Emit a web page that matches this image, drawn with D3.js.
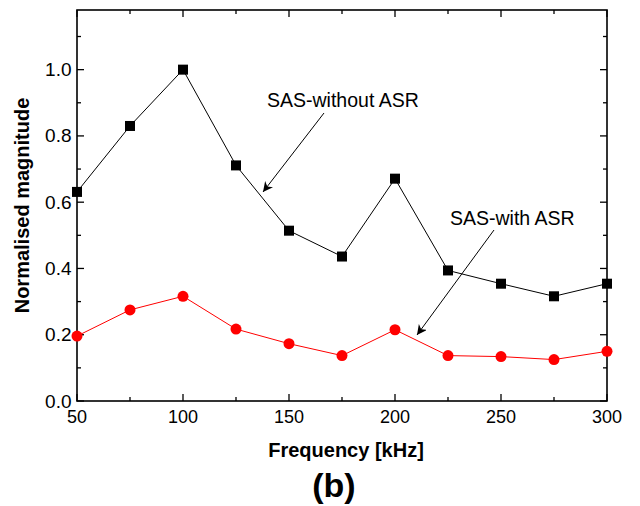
<!DOCTYPE html>
<html><head><meta charset="utf-8">
<script src="https://cdn.jsdelivr.net/npm/d3@7"></script>
<style>body{margin:0;background:#fff}svg{display:block;font-family:Arial,"Liberation Sans",sans-serif}</style>
</head><body>
<svg id="c" width="640" height="506"></svg>
<script>
const frequency = [50, 75, 100, 125, 150, 175, 200, 225, 250, 275, 300];
const withoutASR = [0.631, 0.830, 1.000, 0.711, 0.514, 0.436, 0.671, 0.394, 0.354, 0.316, 0.354];
const withASR = [0.196, 0.275, 0.316, 0.217, 0.173, 0.137, 0.215, 0.137, 0.134, 0.125, 0.150];
const xTicks = [50, 100, 150, 200, 250, 300];
const yTicks = [0.0, 0.2, 0.4, 0.6, 0.8, 1.0];

const svg = d3.select("#c");
const L = 77, R = 607, T = 10, B = 401;
const x = d3.scaleLinear().domain([50, 300]).range([L, R]);
const y = d3.scaleLinear().domain([0, 1.18]).range([B, T]);

// frame
svg.append("rect").attr("x", L).attr("y", T).attr("width", R - L).attr("height", B - T)
  .attr("fill", "none").attr("stroke", "#000").attr("stroke-width", 1.6);

const g = svg.append("g").attr("stroke", "#000").attr("stroke-width", 1.3);
const xMinor = d3.range(50, 301, 25);
const yMinor = d3.range(0, 1.15, 0.1);
xMinor.forEach(v => {
  const major = xTicks.includes(v);
  const len = major ? 7 : 4;
  g.append("line").attr("x1", x(v)).attr("x2", x(v)).attr("y1", B).attr("y2", B - len);
  g.append("line").attr("x1", x(v)).attr("x2", x(v)).attr("y1", T).attr("y2", T + len);
});
yMinor.forEach(v => {
  const major = yTicks.some(t => Math.abs(t - v) < 1e-6);
  const len = major ? 7 : 4;
  g.append("line").attr("y1", y(v)).attr("y2", y(v)).attr("x1", L).attr("x2", L + len);
  g.append("line").attr("y1", y(v)).attr("y2", y(v)).attr("x1", R).attr("x2", R - len);
});

// tick labels
svg.selectAll(".xl").data(xTicks).enter().append("text")
  .attr("x", d => x(d)).attr("y", B + 22).attr("text-anchor", "middle")
  .attr("font-size", 18).text(d => d);
svg.selectAll(".yl").data(yTicks).enter().append("text")
  .attr("x", L - 5.5).attr("y", d => y(d) + 6.5).attr("text-anchor", "end")
  .attr("font-size", 19).text(d => d.toFixed(1));

// axis titles
svg.append("text").attr("x", 346).attr("y", 457).attr("text-anchor", "middle")
  .attr("font-size", 20).attr("font-weight", "bold").text("Frequency [kHz]");
svg.append("text").attr("transform", "translate(29,205.5) rotate(-90)").attr("text-anchor", "middle")
  .attr("font-size", 20).attr("font-weight", "bold").text("Normalised magnitude");
svg.append("text").attr("x", 334).attr("y", 497).attr("text-anchor", "middle")
  .attr("font-size", 34).attr("font-weight", "bold").text("(b)");

// series
const line = d3.line().x((d, i) => x(frequency[i])).y(d => y(d));
svg.append("path").datum(withoutASR).attr("d", line).attr("fill", "none").attr("stroke", "#000").attr("stroke-width", 1);
svg.append("path").datum(withASR).attr("d", line).attr("fill", "none").attr("stroke", "#ff0000").attr("stroke-width", 1);
svg.selectAll(".sq").data(withoutASR).enter().append("rect")
  .attr("x", (d, i) => x(frequency[i]) - 5).attr("y", d => y(d) - 5)
  .attr("width", 10).attr("height", 10).attr("fill", "#000");
svg.selectAll(".ci").data(withASR).enter().append("circle")
  .attr("cx", (d, i) => x(frequency[i])).attr("cy", d => y(d)).attr("r", 5.5).attr("fill", "#ff0000");

// annotations
svg.append("defs").append("marker").attr("id", "ah").attr("viewBox", "0 0 10 10")
  .attr("refX", 10).attr("refY", 5).attr("markerWidth", 10).attr("markerHeight", 10)
  .attr("markerUnits", "userSpaceOnUse").attr("orient", "auto")
  .append("path").attr("d", "M0,0 L10,5 L0,10 L3,5 Z").attr("fill", "#000");
svg.append("text").attr("x", 267).attr("y", 107).attr("font-size", 19.5).text("SAS-without ASR");
svg.append("line").attr("x1", 324).attr("y1", 113).attr("x2", 263).attr("y2", 192)
  .attr("stroke", "#000").attr("stroke-width", 1).attr("marker-end", "url(#ah)");
svg.append("text").attr("x", 450).attr("y", 225).attr("font-size", 19.5).text("SAS-with ASR");
svg.append("line").attr("x1", 494).attr("y1", 230).attr("x2", 417).attr("y2", 335)
  .attr("stroke", "#000").attr("stroke-width", 1).attr("marker-end", "url(#ah)");
</script>
</body></html>
